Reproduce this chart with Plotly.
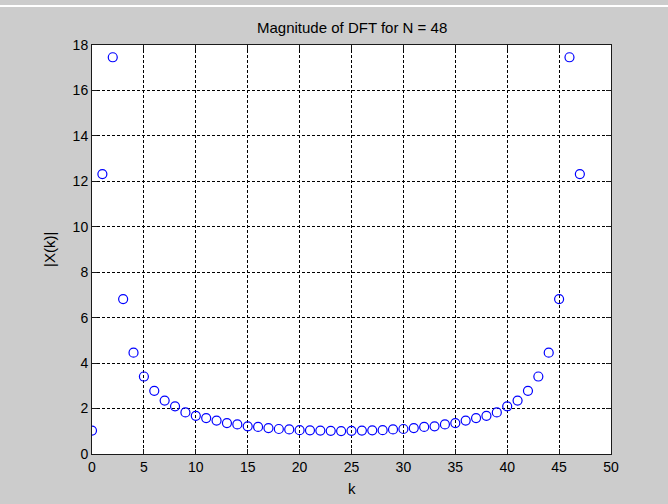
import plotly.graph_objects as go

# DFT bin indices and magnitudes |X(k)| for a 48-point sequence
k = list(range(48))
half = [1.03, 12.32, 17.46, 6.82, 4.46, 3.41, 2.78, 2.35, 2.10, 1.83,
        1.68, 1.58, 1.47, 1.36, 1.30, 1.22, 1.19, 1.14, 1.10, 1.08,
        1.05, 1.04, 1.03, 1.02, 1.01]
# real input -> |X(k)| = |X(N-k)|
magnitude = half + half[1:24][::-1]

x_ticks = list(range(0, 51, 5))
y_ticks = list(range(0, 19, 2))

FONT = "Liberation Sans, Arial, sans-serif"
BG = "#cccccc"
AXIS = "#1a1a1a"

fig = go.Figure()
fig.add_trace(go.Scatter(
    x=k, y=magnitude, mode="markers",
    marker=dict(symbol="circle-open", size=9, color="#0000ff",
                line=dict(width=1.2, color="#0000ff")),
    hoverinfo="skip", showlegend=False,
))

axis_common = dict(
    showgrid=True, gridcolor="black", gridwidth=1, griddash="3px,2px",
    showline=True, linecolor=AXIS, linewidth=1, mirror="ticks",
    ticks="inside", ticklen=5, tickcolor=AXIS, tickwidth=1,
    zeroline=False, tickfont=dict(family=FONT, size=14, color="black"),
    fixedrange=True,
)

fig.update_xaxes(range=[0, 50], tickvals=x_ticks, **axis_common)
fig.update_yaxes(range=[0, 18], tickvals=y_ticks, **axis_common)

fig.update_layout(
    width=668, height=504,
    margin=dict(l=92, r=57, t=45, b=50),
    paper_bgcolor=BG, plot_bgcolor="white",
    annotations=[
        dict(text="Magnitude of DFT for N = 48", xref="paper", yref="paper",
             x=0.5, y=1, xanchor="center", yanchor="bottom", yshift=7,
             showarrow=False, font=dict(family=FONT, size=15, color="black")),
        dict(text="k", xref="paper", yref="paper",
             x=0.5, y=0, xanchor="center", yanchor="top", yshift=-24,
             showarrow=False, font=dict(family=FONT, size=15, color="black")),
        dict(text="|X(k)|", xref="paper", yref="paper", textangle=-90,
             x=0, y=0.5, xanchor="right", yanchor="middle", xshift=-32,
             showarrow=False, font=dict(family=FONT, size=15, color="black")),
    ],
    shapes=[
        dict(type="line", xref="paper", yref="paper",
             x0=-92 / 519, x1=(668 - 92) / 519,
             y0=(454 - 6) / 409, y1=(454 - 6) / 409,
             line=dict(color="white", width=2)),
    ],
)

fig.write_html("out.html")
